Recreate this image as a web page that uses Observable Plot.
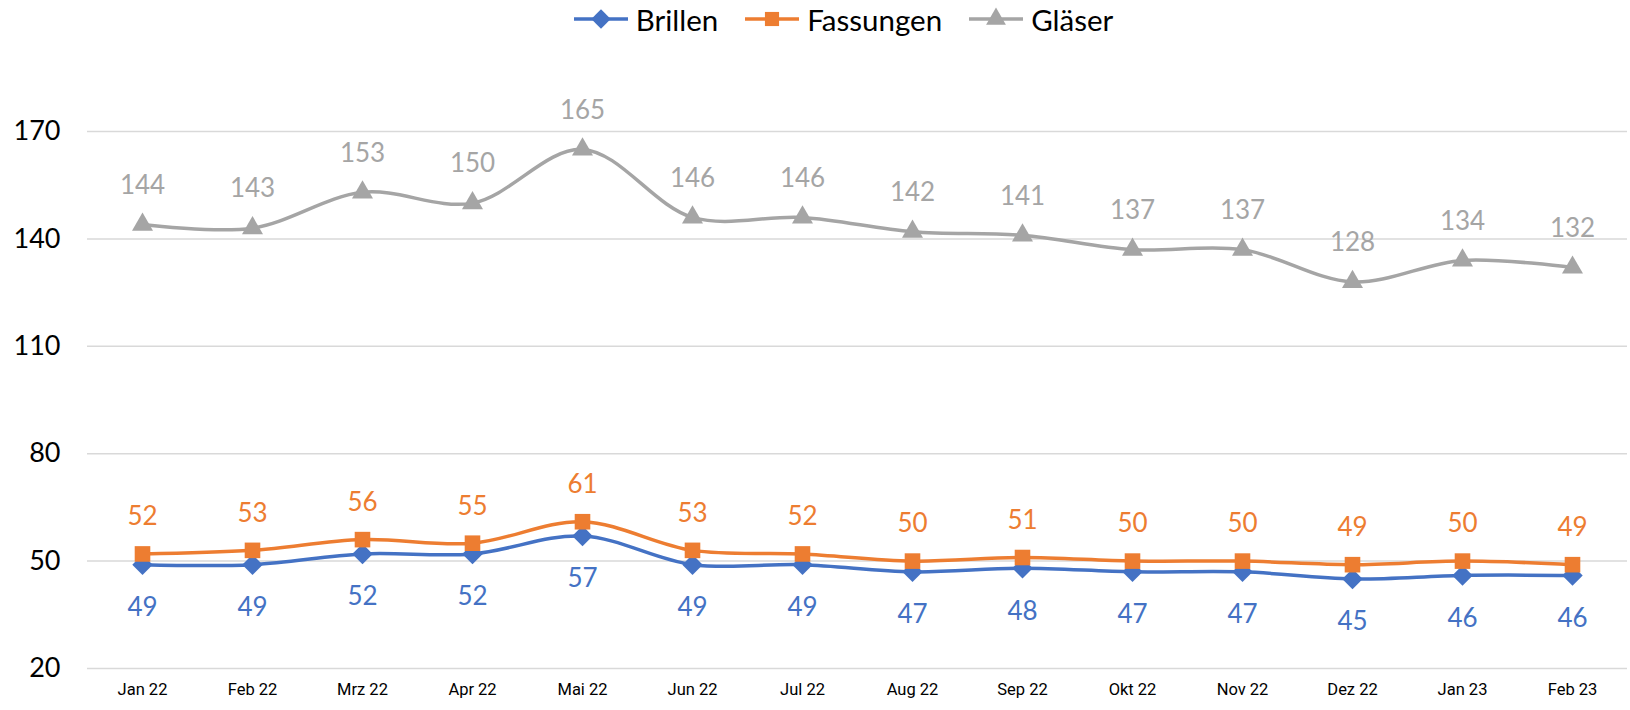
<!DOCTYPE html>
<html>
<head>
<meta charset="utf-8">
<script src="https://cdn.jsdelivr.net/npm/d3@7"></script>
<script src="https://cdn.jsdelivr.net/npm/@observablehq/plot@0.6"></script>
<style>
  html, body { margin: 0; padding: 0; background: #fff; }
  body { width: 1630px; height: 710px; overflow: hidden; font-family: Lato, "Noto Sans", sans-serif; }
  #legend { height: 38px; display: flex; justify-content: center; align-items: center; gap: 26px; padding-left: 56px; font-size: 29.5px; color: #000; }
  .item { display: flex; align-items: center; gap: 7px; }
  #chart svg { display: block; }
</style>
</head>
<body>
<div id="legend"></div>
<div id="chart"></div>
<script>
const months = ["Jan 22","Feb 22","Mrz 22","Apr 22","Mai 22","Jun 22","Jul 22","Aug 22","Sep 22","Okt 22","Nov 22","Dez 22","Jan 23","Feb 23"];
const brillen   = [49,49,52,52,57,49,49,47,48,47,47,45,46,46];
const fassungen = [52,53,56,55,61,53,52,50,51,50,50,49,50,49];
const glaeser   = [144,143,153,150,165,146,146,142,141,137,137,128,134,132];
const seriesNames = ["Brillen","Fassungen","Gläser"];
const yTicks = [20,50,80,110,140,170];

const colors = {"Brillen":"#4472C4","Fassungen":"#ED7D31","Gläser":"#A5A5A5"};
const symbols = {"Brillen":"diamond2","Fassungen":"square","Gläser":"triangle"};
const radii = {"Brillen":9.2,"Fassungen":8.8,"Gläser":7.8};
const labelDy = {"Brillen":43,"Fassungen":-37,"Gläser":-39};

const valuesBy = {"Brillen":brillen,"Fassungen":fassungen,"Gläser":glaeser};
const data = seriesNames.flatMap(s => months.map((m,i) => ({series:s, month:m, value:valuesBy[s][i]})));

// legend
const legend = document.getElementById("legend");
for (const s of seriesNames) {
  const item = document.createElement("div");
  item.className = "item";
  const sym = d3.symbol(s === "Brillen" ? d3.symbolDiamond2 : s === "Fassungen" ? d3.symbolSquare : d3.symbolTriangle,
                        s === "Brillen" ? 240 : s === "Fassungen" ? 200 : 170)();
  item.innerHTML = `<svg width="56" height="26"><line x1="1" x2="55" y1="13" y2="13" stroke="${colors[s]}" stroke-width="3.5"/><path d="${sym}" transform="translate(28,13)" fill="${colors[s]}"/></svg><span>${s}</span>`;
  legend.appendChild(item);
}

const marks = [
  Plot.gridY(yTicks, {stroke:"#d9d9d9", strokeOpacity:1, strokeWidth:1.5}),
  Plot.axisY(yTicks, {tickSize:0, tickPadding:27, fontSize:27, fill:"#000"}),
  Plot.axisX({tickSize:0, tickPadding:15, fontSize:16.5, fill:"#000", fontFamily:"Liberation Sans Narrow, Roboto, sans-serif"}),
  Plot.line(data, {x:"month", y:"value", z:"series", stroke:"series", strokeWidth:3.5, curve:"catmull-rom"})
];
for (const s of seriesNames) {
  const sub = data.filter(d => d.series === s);
  marks.push(Plot.dot(sub, {x:"month", y:"value", symbol:() => symbols[s], fill:colors[s], stroke:null, r:radii[s]}));
  marks.push(Plot.text(sub, {x:"month", y:"value", text:d => String(d.value), dy:labelDy[s], fill:colors[s], fontSize:26}));
}

const chart = Plot.plot({
  width:1630, height:672,
  marginTop:93, marginBottom:42, marginLeft:87, marginRight:3,
  style:{fontFamily:"Lato, 'Noto Sans', sans-serif", background:"#fff"},
  x:{type:"point", domain:months, padding:0.5, label:null},
  y:{domain:[20,170], label:null},
  color:{domain:seriesNames, range:seriesNames.map(s => colors[s])},
  symbol:{type:"identity"},
  marks
});
document.getElementById("chart").appendChild(chart);
</script>
</body>
</html>
